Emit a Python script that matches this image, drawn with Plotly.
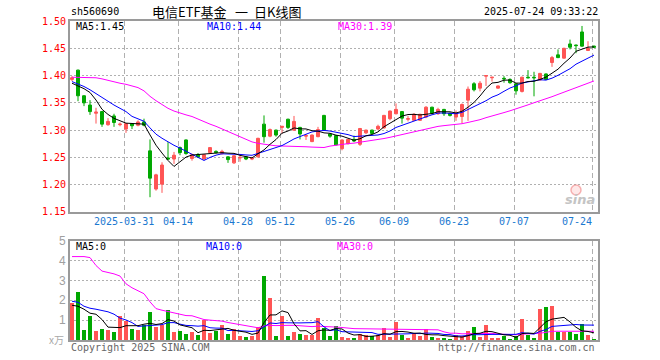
import plotly.graph_objects as go

# ---------------- data ----------------
tick_labels = ["2025-03-31", "04-14", "04-28", "05-12", "05-26", "06-09", "06-23", "07-07", "07-24"]
tick_index = [9, 18, 28, 35, 45, 54, 64, 74, 87]

opens = [1.393, 1.410, 1.363, 1.346, 1.331, 1.334, 1.310, 1.326, 1.310, 1.302,
         1.312, 1.309, 1.315, 1.262, 1.192, 1.201, 1.249, 1.247, 1.268, 1.282,
         1.248, 1.255, 1.247, 1.259, 1.261, 1.257, 1.251, 1.240, 1.249, 1.251,
         1.247, 1.251, 1.311, 1.289, 1.300, 1.305, 1.320, 1.300, 1.305, 1.289,
         1.279, 1.288, 1.327, 1.293, 1.290, 1.266, 1.275, 1.283, 1.274, 1.295,
         1.300, 1.302, 1.304, 1.321, 1.330, 1.334, 1.320, 1.318, 1.318, 1.324,
         1.342, 1.330, 1.338, 1.331, 1.324, 1.325, 1.355, 1.385, 1.377, 1.399,
         1.396, 1.377, 1.395, 1.393, 1.385, 1.371, 1.397, 1.397, 1.392, 1.403,
         1.424, 1.438, 1.432, 1.458, 1.456, 1.480, 1.446, 1.454]
closes = [1.396, 1.363, 1.350, 1.334, 1.333, 1.311, 1.316, 1.314, 1.311, 1.312,
          1.308, 1.315, 1.309, 1.212, 1.218, 1.236, 1.247, 1.254, 1.259, 1.257,
          1.255, 1.251, 1.255, 1.268, 1.259, 1.261, 1.246, 1.253, 1.250, 1.247,
          1.249, 1.285, 1.288, 1.301, 1.291, 1.307, 1.305, 1.316, 1.293, 1.290,
          1.291, 1.301, 1.300, 1.289, 1.273, 1.282, 1.283, 1.280, 1.303, 1.300,
          1.294, 1.307, 1.327, 1.335, 1.338, 1.322, 1.321, 1.329, 1.329, 1.342,
          1.331, 1.338, 1.330, 1.327, 1.331, 1.347, 1.375, 1.374, 1.386, 1.400,
          1.397, 1.381, 1.394, 1.387, 1.372, 1.397, 1.396, 1.396, 1.404, 1.393,
          1.433, 1.433, 1.450, 1.452, 1.455, 1.454, 1.450, 1.452]
highs = [1.399, 1.411, 1.364, 1.355, 1.341, 1.335, 1.322, 1.330, 1.314, 1.313,
         1.313, 1.318, 1.321, 1.283, 1.220, 1.241, 1.278, 1.260, 1.270, 1.283,
         1.257, 1.258, 1.256, 1.269, 1.263, 1.264, 1.252, 1.254, 1.254, 1.252,
         1.251, 1.286, 1.327, 1.303, 1.301, 1.307, 1.321, 1.326, 1.306, 1.293,
         1.292, 1.306, 1.328, 1.294, 1.291, 1.283, 1.284, 1.290, 1.304, 1.301,
         1.301, 1.310, 1.328, 1.336, 1.349, 1.335, 1.326, 1.331, 1.330, 1.344,
         1.343, 1.341, 1.339, 1.332, 1.336, 1.349, 1.380, 1.388, 1.390, 1.400,
         1.397, 1.382, 1.399, 1.395, 1.386, 1.398, 1.410, 1.407, 1.405, 1.404,
         1.436, 1.448, 1.451, 1.466, 1.457, 1.491, 1.463, 1.455]
lows = [1.390, 1.353, 1.344, 1.328, 1.312, 1.306, 1.308, 1.306, 1.307, 1.295,
        1.302, 1.307, 1.307, 1.177, 1.189, 1.185, 1.246, 1.238, 1.254, 1.255,
        1.244, 1.249, 1.246, 1.258, 1.257, 1.255, 1.240, 1.238, 1.242, 1.245,
        1.245, 1.250, 1.277, 1.287, 1.288, 1.294, 1.302, 1.299, 1.283, 1.282,
        1.278, 1.287, 1.299, 1.286, 1.272, 1.263, 1.274, 1.278, 1.271, 1.293,
        1.293, 1.300, 1.303, 1.318, 1.329, 1.312, 1.316, 1.317, 1.317, 1.322,
        1.329, 1.328, 1.326, 1.325, 1.317, 1.313, 1.317, 1.371, 1.371, 1.381,
        1.389, 1.376, 1.387, 1.385, 1.365, 1.369, 1.395, 1.362, 1.391, 1.392,
        1.416, 1.432, 1.431, 1.448, 1.441, 1.453, 1.445, 1.451]
volumes = [1.87, 2.42, 0.50, 1.22, 0.47, 0.55, 0.50, 0.40, 1.20, 0.95,
           0.55, 0.50, 0.78, 1.42, 0.65, 0.78, 1.50, 0.42, 0.45, 0.30,
           0.42, 0.25, 1.03, 0.37, 0.47, 0.75, 0.30, 0.55, 0.20, 0.17,
           0.20, 0.63, 3.20, 2.10, 0.20, 1.20, 0.20, 0.40, 0.30, 0.25,
           0.25, 1.13, 0.60, 0.20, 0.70, 0.15, 0.10, 0.10, 0.30, 0.25,
           0.20, 0.25, 0.60, 0.15, 0.90, 0.25, 0.10, 0.30, 0.20, 0.55,
           0.15, 0.10, 0.10, 0.07, 0.25, 0.20, 0.45, 0.65, 0.15, 0.75,
           0.10, 0.10, 0.20, 0.05, 0.20, 1.05, 0.25, 0.10, 1.55, 1.65,
           1.70, 0.40, 0.40, 0.40, 0.30, 0.80, 0.25, 0.05]

# moving-average values before enough in-window history exists
ma5_head = [1.386, 1.381, 1.376, 1.369]
ma10_head = [1.389, 1.385, 1.380, 1.374, 1.367, 1.359, 1.352, 1.346, 1.340]
ma30_head = [1.397, 1.397, 1.397, 1.397, 1.396, 1.394, 1.391, 1.388, 1.386, 1.384,
             1.381, 1.378, 1.372, 1.362, 1.354, 1.347, 1.340, 1.335, 1.331, 1.328,
             1.325, 1.320, 1.315, 1.311, 1.307, 1.302, 1.298, 1.293, 1.288]
vma5_head = [1.75, 1.70, 1.55, 1.35]
vma10_head = [1.95, 1.90, 1.70, 1.60, 1.55, 1.50, 1.42, 1.30, 1.10]
vma30_head = [4.20, 4.20, 4.20, 4.15, 3.75, 3.47, 3.40, 3.33, 3.22, 2.83,
              2.63, 2.50, 2.33, 1.92, 1.58, 1.50, 1.43, 1.37, 1.28, 1.23,
              1.22, 1.13, 1.03, 1.00, 0.98, 0.95, 0.88, 0.83, 0.80]

price_ticks = [1.15, 1.20, 1.25, 1.30, 1.35, 1.40, 1.45, 1.50]
vol_ticks = [1, 2, 3, 4, 5]


def moving_avg(vals, n, head):
    out = []
    for i in range(len(vals)):
        if i < n - 1:
            out.append(head[i])
        else:
            out.append(sum(vals[i - n + 1:i + 1]) / n)
    return out


idx = list(range(len(closes)))
ma5 = moving_avg(closes, 5, ma5_head)
ma10 = moving_avg(closes, 10, ma10_head)
ma30 = moving_avg(closes, 30, ma30_head)
vma5 = moving_avg(volumes, 5, vma5_head)
vma10 = moving_avg(volumes, 10, vma10_head)
vma30 = moving_avg(volumes, 30, vma30_head)

RED = "#ff5555"
GREEN = "#00a800"
MONO = "DejaVu Sans Mono"
CJK = "Noto Sans CJK SC"

fig = go.Figure()
fig.add_trace(go.Candlestick(
    x=idx, open=opens, high=highs, low=lows, close=closes,
    increasing=dict(line=dict(color=RED, width=1), fillcolor=RED),
    decreasing=dict(line=dict(color=GREEN, width=1), fillcolor=GREEN),
    whiskerwidth=0, showlegend=False, hoverinfo="skip", xaxis="x", yaxis="y"))
for series, col in ((ma30, "#ff00ff"), (ma10, "#0000ff"), (ma5, "#000000")):
    fig.add_trace(go.Scatter(x=idx, y=series, mode="lines", line=dict(color=col, width=1),
                             showlegend=False, hoverinfo="skip", xaxis="x", yaxis="y"))

bar_colors = [RED if c >= o else GREEN for o, c in zip(opens, closes)]
fig.add_trace(go.Bar(x=idx, y=volumes, marker=dict(color=bar_colors, line=dict(width=0)),
                     width=0.78, showlegend=False, hoverinfo="skip", xaxis="x2", yaxis="y2"))
for series, col in ((vma30, "#ff00ff"), (vma10, "#0000ff"), (vma5, "#000000")):
    fig.add_trace(go.Scatter(x=idx, y=series, mode="lines", line=dict(color=col, width=1),
                             showlegend=False, hoverinfo="skip", xaxis="x2", yaxis="y2"))

# layout geometry (pixels -> paper)
L, R, T, B = 70, 62, 21, 20
W, H = 660, 360
PW, PH = W - L - R, H - T - B


def px_x(x):
    return (x - L) / PW


def px_y(y):
    return (H - B - y) / PH


xr = [-1 / 3, 87 + 2 / 3]
grid_x = [i - 0.3 for i in tick_index]
common_x = dict(range=xr, tickvals=grid_x, showticklabels=False, ticks="",
                showgrid=True, gridcolor="#b0b0b0", gridwidth=1, griddash="5px,3px",
                zeroline=False, showline=True, mirror=True, linecolor="#9a9a9a", linewidth=2,
                fixedrange=True)

fig.update_layout(
    width=W, height=H, margin=dict(l=L, r=R, t=T, b=B),
    paper_bgcolor="white", plot_bgcolor="white",
    showlegend=False, bargap=0, boxgap=0.3,
    xaxis=dict(domain=[0, 1], anchor="y", rangeslider=dict(visible=False), **common_x),
    xaxis2=dict(domain=[0, 1], anchor="y2", **common_x),
    yaxis=dict(domain=[px_y(212), 1], range=[1.1499, 1.5001], tickvals=price_ticks,
               ticktext=["%.2f" % v for v in price_ticks],
               tickfont=dict(family=MONO, size=10, color="#ff0000"), ticks="",
               showgrid=True, gridcolor="#b0b0b0", gridwidth=1, griddash="2px,2px",
               zeroline=False, showline=True, mirror=True, linecolor="#9a9a9a", linewidth=2),
    yaxis2=dict(domain=[0, px_y(240.7)], range=[0, 5.0001], tickvals=vol_ticks,
                ticktext=[str(v) for v in vol_ticks],
                tickfont=dict(family="Liberation Sans", size=12, color="#a0a0a0"), ticks="",
                showgrid=True, gridcolor="#b0b0b0", gridwidth=1, griddash="2px,2px",
                zeroline=False, showline=True, mirror=True, linecolor="#9a9a9a", linewidth=2),
)

ann = []


def add_text(text, x, y, color="#000000", size=10, family=MONO, xanchor="left", **kw):
    ann.append(dict(text=text, x=px_x(x), y=px_y(y), xref="paper", yref="paper",
                    showarrow=False, xanchor=xanchor, yanchor="middle",
                    font=dict(family=family, size=size, color=color), **kw))


# header
add_text("sh560690", 69, 12)
add_text("电信ETF基金", 150, 12, size=13, family=CJK)
add_text("一", 233, 12, size=13, family=CJK)
add_text("日K线图", 252, 12, size=13, family=CJK)
add_text("2025-07-24 09:33:22", 600, 12, xanchor="right")
# main MA labels
add_text("MA5:%.2f" % ma5[-1], 74, 27)
add_text("MA10:%.2f" % ma10[-1], 205, 27, color="#0000ff")
add_text("MA30:%.2f" % ma30[-1], 336, 27, color="#ff00ff")
# volume MA labels
add_text("MA5:0", 74, 246)
add_text("MA10:0", 204, 246, color="#0000ff")
add_text("MA30:0", 335, 246, color="#ff00ff")
# x tick labels
tick_color = "#1b78d0"
for lab, i in zip(tick_labels, tick_index):
    xc = 72 + 6 * i - 2
    if i == tick_index[-1]:
        xc = 576.5
    ann.append(dict(text=lab, x=px_x(xc), y=px_y(221.5), xref="paper", yref="paper",
                    showarrow=False, xanchor="center", yanchor="middle",
                    font=dict(family=MONO, size=10, color=tick_color)))
# volume unit and footers
add_text("x万", 66, 339, color="#a8a8a8", size=10, family=CJK, xanchor="right")
add_text("Copyright 2025 SINA.COM", 69, 347, color="#666666")
add_text("http://finance.sina.com.cn", 597, 347, color="#666666", xanchor="right")
# watermark
ann.append(dict(text="<b><i>sina</i></b>", x=px_x(580), y=px_y(200), xref="paper", yref="paper",
                showarrow=False, xanchor="center", yanchor="middle",
                font=dict(family="DejaVu Sans", size=13, color="#c4c4c4")))
fig.update_layout(annotations=ann)
fig.add_shape(type="circle", xref="paper", yref="paper",
              x0=px_x(571), x1=px_x(581), y0=px_y(195), y1=px_y(185),
              line=dict(color="rgba(240,130,130,0.6)", width=1.5),
              fillcolor="rgba(255,190,190,0.35)")

# remove the default page margin so the figure sits at the window's top-left corner
fig.write_html("out.html", config={"displayModeBar": False, "staticPlot": True},
               post_script="document.body.style.margin='0';document.body.style.overflow='hidden';")
